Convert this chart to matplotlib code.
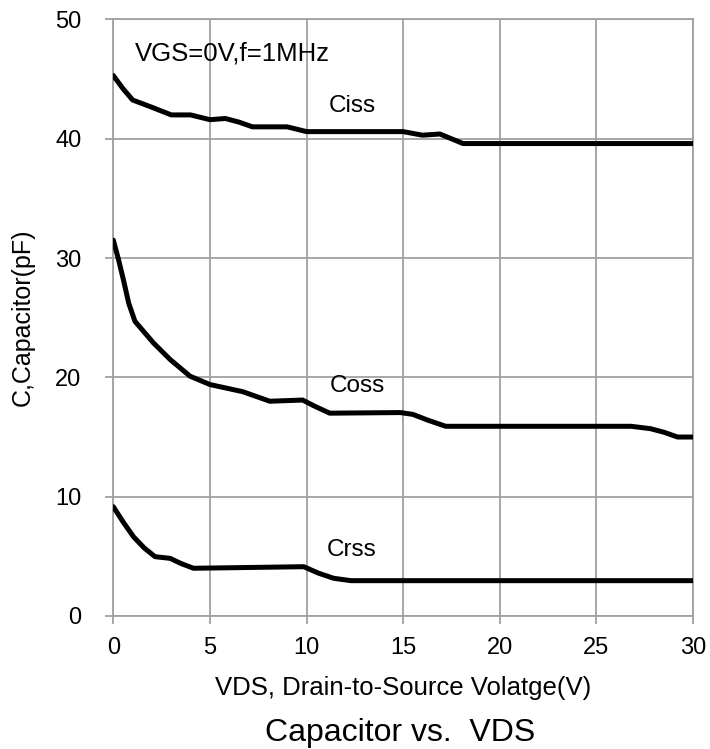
import matplotlib.pyplot as plt

plt.rcParams['font.family'] = ['Liberation Sans', 'DejaVu Sans']

# values
ciss_v = [0, 0.5, 1.0, 1.9, 3.0, 4.0, 5.0, 5.8, 6.5, 7.2, 9.0, 10.0, 14.3, 15.0, 16.0, 16.9, 17.5, 18.1, 30]
ciss_c = [45.3, 44.2, 43.25, 42.7, 42.0, 42.0, 41.6, 41.7, 41.4, 41.0, 41.0, 40.6, 40.6, 40.6, 40.3, 40.4, 40.0, 39.6, 39.6]

coss_v = [0, 0.25, 0.52, 0.8, 1.12, 2.07, 2.94, 3.97, 5.0, 6.7, 7.4, 8.1, 9.8, 10.4, 11.2, 14.85, 15.5, 16.3, 17.2, 26.8, 27.8, 28.5, 29.2, 30]
coss_c = [31.5, 30.0, 28.2, 26.2, 24.7, 22.9, 21.5, 20.1, 19.4, 18.8, 18.4, 18.0, 18.1, 17.6, 17.0, 17.05, 16.9, 16.4, 15.9, 15.9, 15.7, 15.4, 15.0, 15.0]

crss_v = [0, 0.5, 1.04, 1.6, 2.16, 2.94, 3.5, 4.15, 9.86, 10.6, 11.4, 12.3, 30]
crss_c = [9.16, 7.9, 6.65, 5.7, 4.97, 4.83, 4.4, 4.0, 4.13, 3.6, 3.16, 2.96, 2.96]

x_ticks = [0, 5, 10, 15, 20, 25, 30]
y_ticks = [0, 10, 20, 30, 40, 50]

fig = plt.figure(figsize=(7.1, 7.49), dpi=100)
ax = fig.add_axes([0.1596, 0.1776, 0.8164, 0.7964])

for v, c in [(ciss_v, ciss_c), (coss_v, coss_c), (crss_v, crss_c)]:
    ax.plot(v, c, color='black', lw=3.6, solid_joinstyle='round', solid_capstyle='round', zorder=3)

ax.set_xlim(0, 30)
ax.set_ylim(0, 50)
ax.set_xticks(x_ticks)
ax.set_yticks(y_ticks)
ax.grid(True, color='#a0a0a0', lw=1.3)
for s in ax.spines.values():
    s.set_color('#a0a0a0')
    s.set_linewidth(1.3)
ax.tick_params(colors='#a0a0a0', labelcolor='black', labelsize=17, length=6, width=1.3)
ax.tick_params(axis='y', pad=17)
ax.tick_params(axis='x', pad=9)

ax.text(1.12, 46.6, 'VGS=0V,f=1MHz', fontsize=18.5, va='baseline', ha='left')
ax.text(11.14, 42.27, 'Ciss', fontsize=17.5, va='baseline', ha='left')
ax.text(11.19, 18.8, 'Coss', fontsize=17.5, va='baseline', ha='left')
ax.text(11.06, 5.03, 'Crss', fontsize=17.5, va='baseline', ha='left')

fig.text(403 / 710, 1 - 695 / 749, 'VDS, Drain-to-Source Volatge(V)', fontsize=18.5, va='baseline', ha='center')
fig.text(0.032, 1 - 317 / 749, 'C,Capacitor(pF)', rotation=90, fontsize=18, va='center', ha='center')
fig.text(400 / 710, 1 - 741 / 749, 'Capacitor vs.  VDS', fontsize=23, va='baseline', ha='center')

fig.savefig('out.png', dpi=100)
